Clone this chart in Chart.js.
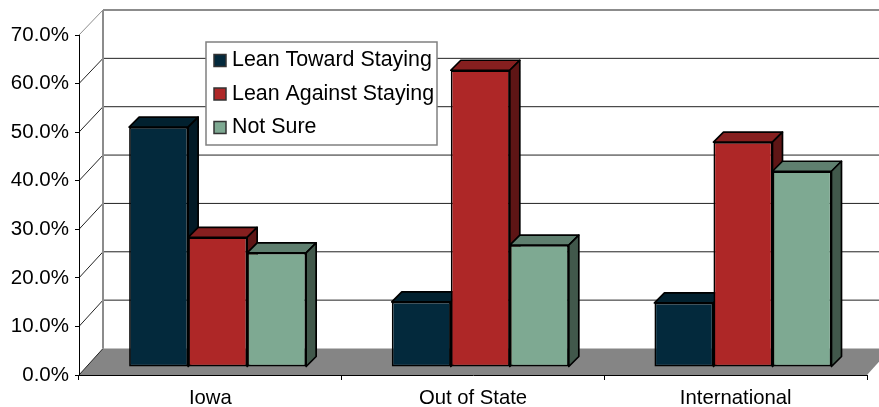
<!DOCTYPE html>
<html lang="en">
<head>
    <meta charset="UTF-8">
    <title>Stay or leave</title>
    <script src="https://cdn.jsdelivr.net/npm/chart.js"></script>
    <style>
        body { margin: 0; background: #fff; }
        canvas { display: block; }
    </style>
</head>
<body>

<canvas id="chart" width="879" height="407"></canvas>

<script>
    var categories = ['Iowa', 'Out of State', 'International']
    var leanToward = [49.4, 13.4, 13.2]
    var leanAgainst = [26.7, 61.1, 46.3]
    var notSure = [23.5, 25.1, 40.3]
    var gridValues = [0, 10, 20, 30, 40, 50, 60, 70]

    var font = 'Liberation Sans'

    // how far the back wall and the bars sit behind the axis plane
    var wallX = 24
    var wallTop = 25
    var wallBottom = 26.5
    var barShiftX = 7.3
    var barShiftY = 8
    var barDepth = 10

    var box3d = {
        id: 'box3d',
        beforeDraw(chart) {
            var ctx = chart.ctx
            var y = chart.scales.y
            var a = chart.chartArea
            var backY = v => {
                var py = y.getPixelForValue(v)
                var t = (py - a.top) / (a.bottom - a.top)
                return py - wallTop - (wallBottom - wallTop) * t
            }
            ctx.save()

            // floor
            ctx.fillStyle = '#858585'
            ctx.beginPath()
            ctx.moveTo(a.left, a.bottom)
            ctx.lineTo(a.right, a.bottom)
            ctx.lineTo(a.right + wallX, backY(0))
            ctx.lineTo(a.left + wallX, backY(0))
            ctx.closePath()
            ctx.fill()

            // grid on the back wall and its slant down the side wall
            gridValues.forEach(v => {
                ctx.strokeStyle = v == 70 ? '#8c8c8c' : '#222'
                ctx.lineWidth = v == 70 ? 2 : 1
                if (v > 0) {
                    ctx.beginPath()
                    ctx.moveTo(a.left + wallX, backY(v))
                    ctx.lineTo(chart.width, backY(v))
                    ctx.stroke()
                }
                ctx.lineWidth = 1
                ctx.beginPath()
                ctx.moveTo(a.left, y.getPixelForValue(v))
                ctx.lineTo(a.left + wallX, backY(v))
                ctx.stroke()
            })

            ctx.strokeStyle = '#8c8c8c'
            ctx.lineWidth = 2
            ctx.beginPath()
            ctx.moveTo(a.left + wallX, backY(0))
            ctx.lineTo(a.left + wallX, backY(70))
            ctx.stroke()
            ctx.restore()
        },
        beforeDatasetsDraw(chart) {
            var ctx = chart.ctx
            ctx.save()
            ctx.translate(barShiftX, -barShiftY)

            // top and side faces go down first, the fronts are drawn over them
            chart.data.datasets.forEach((ds, i) => {
                chart.getDatasetMeta(i).data.forEach(bar => {
                    var left = bar.x - bar.width / 2
                    var right = bar.x + bar.width / 2
                    ctx.strokeStyle = '#000'
                    ctx.lineWidth = 1.7
                    ctx.lineJoin = 'round'

                    ctx.fillStyle = ds.topColor
                    ctx.beginPath()
                    ctx.moveTo(left, bar.y)
                    ctx.lineTo(left + barDepth, bar.y - barDepth)
                    ctx.lineTo(right + barDepth, bar.y - barDepth)
                    ctx.lineTo(right, bar.y)
                    ctx.closePath()
                    ctx.fill()
                    ctx.stroke()

                    ctx.fillStyle = ds.sideColor
                    ctx.beginPath()
                    ctx.moveTo(right, bar.y)
                    ctx.lineTo(right + barDepth, bar.y - barDepth)
                    ctx.lineTo(right + barDepth, bar.base - barDepth)
                    ctx.lineTo(right, bar.base)
                    ctx.closePath()
                    ctx.fill()
                    ctx.stroke()
                })
            })
        },
        afterDatasetsDraw(chart) {
            chart.ctx.restore()
        },
        afterDraw(chart) {
            var ctx = chart.ctx
            ctx.save()
            ctx.fillStyle = '#fff'
            ctx.fillRect(206, 42, 231, 103)
            ctx.strokeStyle = '#808080'
            ctx.lineWidth = 1.5
            ctx.strokeRect(206, 42, 231, 103)

            ctx.font = '21.4px "' + font + '"'
            ctx.textBaseline = 'middle'
            chart.data.datasets.forEach((ds, i) => {
                var rowY = 60.5 + i * 33.5
                ctx.fillStyle = ds.backgroundColor
                ctx.fillRect(214, rowY - 6, 12, 12)
                ctx.strokeStyle = '#333'
                ctx.lineWidth = 1.5
                ctx.strokeRect(214, rowY - 6, 12, 12)
                ctx.fillStyle = '#000'
                ctx.fillText(ds.label, 232, rowY)
            })
            ctx.restore()
        }
    }

    var prices = new Chart(document.getElementById('chart'), {
        type: 'bar',
        data: {
            labels: categories,
            datasets: [
                { label: 'Lean Toward Staying', data: leanToward, backgroundColor: '#03293c', topColor: '#02212f', sideColor: '#021a26' },
                { label: 'Lean Against Staying', data: leanAgainst, backgroundColor: '#ae2727', topColor: '#861f1f', sideColor: '#5e1515' },
                { label: 'Not Sure', data: notSure, backgroundColor: '#7ea992', topColor: '#5f7f6f', sideColor: '#41584b' }
            ]
        },
        plugins: [box3d],
        options: {
            responsive: false,
            animation: false,
            clip: false,
            layout: { padding: { top: 35, right: 12 } },
            datasets: {
                bar: {
                    barPercentage: 1,
                    categoryPercentage: 0.674,
                    borderColor: '#000',
                    borderWidth: 1.7,
                    borderSkipped: false
                }
            },
            plugins: {
                legend: { display: false },
                tooltip: { enabled: false }
            },
            scales: {
                x: {
                    afterFit: s => { s.height = 32 },
                    border: { color: '#000', width: 1 },
                    grid: { drawOnChartArea: false, color: '#000', tickLength: 5 },
                    ticks: { color: '#000', font: { family: font, size: 20.3 }, padding: 6, maxRotation: 0 }
                },
                y: {
                    min: 0,
                    max: 70,
                    afterFit: s => { s.width = 79 },
                    border: { color: '#000', width: 1 },
                    grid: { drawOnChartArea: false, color: '#000', tickLength: 4 },
                    ticks: {
                        stepSize: 10,
                        color: '#000',
                        font: { family: font, size: 20.5 },
                        padding: 6,
                        callback: v => v.toFixed(1) + '%'
                    }
                }
            }
        }
    })
</script>

</body>
</html>
